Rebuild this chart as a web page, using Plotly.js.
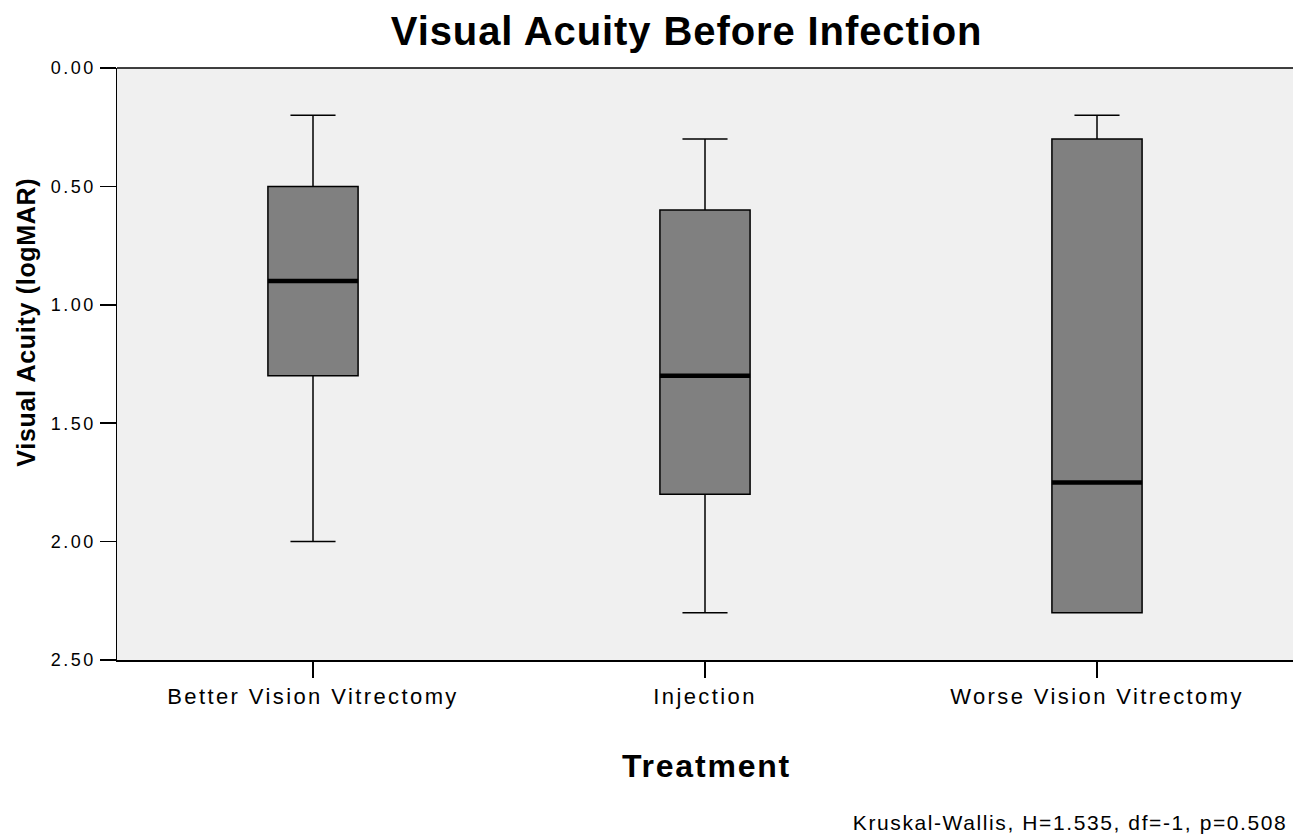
<!DOCTYPE html>
<html>
<head>
<meta charset="utf-8">
<script src="https://cdn.plot.ly/plotly-3.0.1.min.js"></script>
<style>
html,body{margin:0;padding:0;background:#fff;}
#chart{width:1293px;height:838px;}
.xtick text{letter-spacing:2.4px;}
.ytick text{letter-spacing:2.5px;}
.gtitle{letter-spacing:0.9px;}
g.annotation[data-index="0"] text{letter-spacing:0.7px;}
g.annotation[data-index="1"] text{letter-spacing:1.8px;}
g.annotation[data-index="2"] text{letter-spacing:1.6px;}
</style>
</head>
<body>
<div id="chart"></div>
<script>
const categories = ["Better Vision Vitrectomy", "Injection", "Worse Vision Vitrectomy"];
const upperWhisker = [0.2, 0.3, 0.2];
const q1Values = [0.5, 0.6, 0.3];
const medianValues = [0.9, 1.3, 1.75];
const q3Values = [1.3, 1.8, 2.3];
const lowerWhisker = [2.0, 2.3, 2.3];
const yTickVals = [0, 0.5, 1.0, 1.5, 2.0, 2.5];
const yTickText = ["0.00", "0.50", "1.00", "1.50", "2.00", "2.50"];

const boxWidth = 0.23;
const font = "Liberation Sans, Arial, Helvetica, sans-serif";

const trace = {
  type: "box",
  x: categories,
  q1: q1Values,
  median: medianValues,
  q3: q3Values,
  lowerfence: upperWhisker,
  upperfence: lowerWhisker,
  width: boxWidth,
  whiskerwidth: 0.5,
  fillcolor: "#808080",
  line: {color: "#000000", width: 1.5},
  boxpoints: false,
  hoverinfo: "skip",
  showlegend: false
};

const shapes = medianValues.map((m, i) => ({
  type: "line", xref: "x", yref: "y",
  x0: i - boxWidth / 2, x1: i + boxWidth / 2, y0: m, y1: m,
  line: {color: "#000000", width: 4.5}
}));
shapes.push({type: "line", xref: "paper", yref: "paper", x0: 0, x1: 1, y0: 1, y1: 1, line: {color: "#000", width: 1.5}});

const layout = {
  width: 1293, height: 838,
  margin: {l: 117, r: 0, t: 68, b: 178},
  paper_bgcolor: "#ffffff",
  plot_bgcolor: "#f0f0f0",
  font: {family: font, color: "#000"},
  title: {text: "<b>Visual Acuity Before Infection</b>", font: {size: 40, family: font, color: "#000"}, x: 0.531, xanchor: "center", y: 0.963, yanchor: "middle"},
  xaxis: {
    type: "category", range: [-0.5, 2.5],
    showline: true, linecolor: "#000", linewidth: 1.5,
    ticks: "outside", ticklen: 16, tickwidth: 1.5, tickcolor: "#000",
    showgrid: false, zeroline: false,
    tickfont: {size: 22, family: font, color: "#000"}
  },
  yaxis: {
    range: [2.5, 0],
    tickvals: yTickVals, ticktext: yTickText,
    showline: true, linecolor: "#000", linewidth: 1.5,
    ticks: "outside", ticklen: 16, tickwidth: 1.5, tickcolor: "#000",
    showgrid: false, zeroline: false,
    tickfont: {size: 18, family: font, color: "#000"}
  },
  shapes: shapes,
  annotations: [
    {
      text: "<b>Visual Acuity (logMAR)</b>", textangle: -90,
      xref: "paper", yref: "paper", x: -0.0774, y: 0.571, xanchor: "center", yanchor: "middle",
      showarrow: false, font: {size: 25, family: font, color: "#000"}
    },
    {
      text: "<b>Treatment</b>",
      xref: "paper", yref: "paper", x: 0.5009, y: -0.179, xanchor: "center", yanchor: "middle",
      showarrow: false, font: {size: 32, family: font, color: "#000"}
    },
    {
      text: "Kruskal-Wallis, H=1.535, df=-1, p=0.508",
      xref: "paper", yref: "paper", x: 0.810, y: -0.275, xanchor: "center", yanchor: "middle",
      showarrow: false, font: {size: 21, family: font, color: "#000"}
    }
  ]
};

Plotly.newPlot("chart", [trace], layout, {displayModeBar: false, staticPlot: true});
</script>
</body>
</html>
